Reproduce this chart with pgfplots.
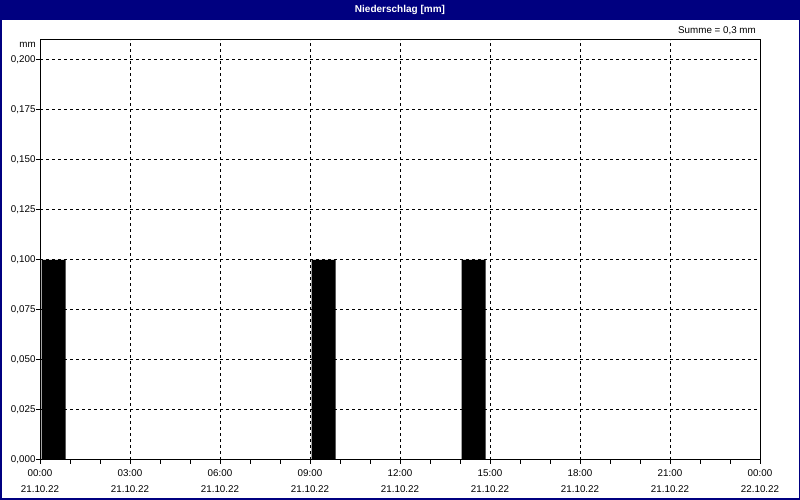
\documentclass[border=0pt]{standalone}
\usepackage{pgfplots}
\pgfplotsset{compat=1.18}
\usepackage{fontspec}
\setmainfont{Liberation Sans}
\definecolor{navy}{RGB}{0,0,128}
\pgfplotstableread{
h val
0.45 0.1
9.45 0.1
14.45 0.1
}\rain
\begin{document}
\begin{tikzpicture}[x=1pt,y=1pt]
\fill[white] (0,0) rectangle (800,500);
\fill[navy] (0,480) rectangle (800,500);
\draw[navy, line width=1.5pt] (0.75,0.75) rectangle (799.25,499.25);
\node[white, inner sep=0, font=\fontsize{10}{12}\selectfont\bfseries] at (400,490) {Niederschlag [mm]};
\begin{axis}[
  at={(40pt,40pt)}, anchor=south west,
  scale only axis, width=720pt, height=420pt,
  xmin=0, xmax=24, ymin=0, ymax=0.21,
  xtick={0,3,...,24},
  minor xtick={0,1,...,24},
  xticklabels={00:00\\21.10.22,03:00\\21.10.22,06:00\\21.10.22,09:00\\21.10.22,12:00\\21.10.22,15:00\\21.10.22,18:00\\21.10.22,21:00\\21.10.22,00:00\\22.10.22},
  xticklabel style={align=center, font=\fontsize{9.8}{16}\selectfont, yshift=-2pt},
  ytick={0,0.025,...,0.2001},
  yticklabel style={font=\fontsize{9.8}{11}\selectfont, xshift=3pt},
  /pgf/number format/.cd, fixed, fixed zerofill, precision=3, use comma, assume math mode=true,
  /pgfplots/.cd,
  tick align=outside,
  major tick length=4pt, minor tick length=4pt,
  xtick pos=bottom, ytick pos=left,
  tick style={black, line width=1pt},
  axis line style={black, line width=1pt},
  grid=major,
  major grid style={black, line width=1pt, dash pattern=on 3pt off 3pt},
  minor grid style={draw=none},
  axis on top=false,
]
\addplot[ybar, bar width=0.8, fill=black, draw=none] table[x=h, y=val] {\rain};
\end{axis}
\node[anchor=east, inner sep=0, font=\fontsize{9.8}{11}\selectfont] at (756,469) {Summe = 0,3 mm};
\node[anchor=east, inner sep=0, font=\fontsize{9.8}{11}\selectfont] at (36,455) {mm};
\end{tikzpicture}
\end{document}
